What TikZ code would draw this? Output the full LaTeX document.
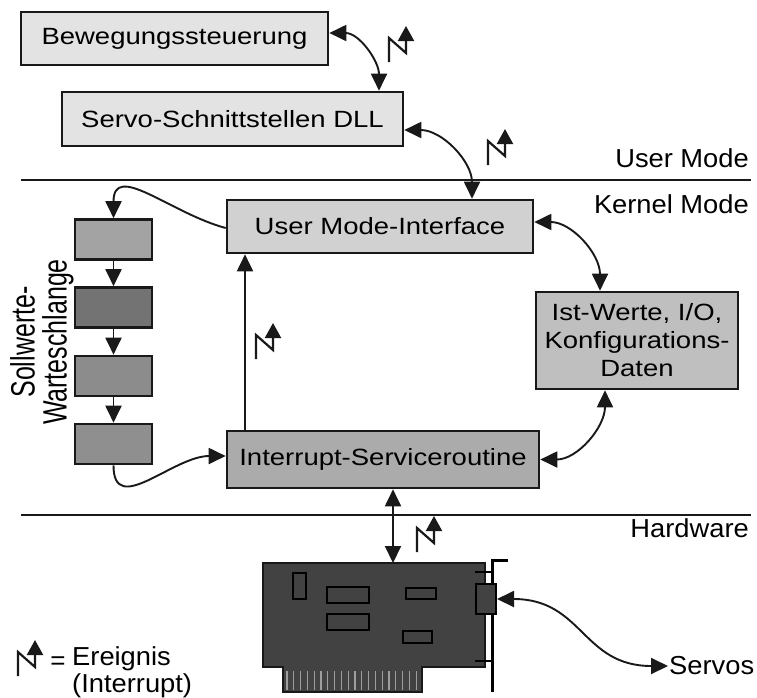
\documentclass[tikz,border=0pt]{standalone}
\usepackage{fontspec}
\setmainfont{Liberation Sans}
\usepackage{graphicx}
\usetikzlibrary{arrows.meta}

\definecolor{edge}{gray}{0.10}
\definecolor{fillA}{gray}{0.89}
\definecolor{fillB}{gray}{0.82}
\definecolor{fillC}{gray}{0.75}
\definecolor{fillD}{gray}{0.67}
\definecolor{qA}{gray}{0.64}
\definecolor{qB}{gray}{0.45}
\definecolor{qC}{gray}{0.55}
\definecolor{qD}{gray}{0.56}
\definecolor{cardc}{gray}{0.26}
\definecolor{fingc}{gray}{0.62}

% wide sans lettering used throughout
\newcommand\wtxt[1]{\scalebox{1.17}[1]{#1}}
\newcommand\ltxt[1]{\scalebox{1.05}[1]{#1}}

\begin{document}
\begin{tikzpicture}[x=1pt,y=1pt,
  >={Triangle[length=17pt,width=16pt]},
  box/.style={draw=edge,line width=2.6pt,inner sep=0pt,font=\fontsize{23.5}{28}\selectfont},
  qbox/.style={draw=edge,line width=2.6pt,minimum width=77pt,minimum height=40pt,inner sep=0pt},
  link/.style={line width=1.9pt,draw=edge},
  side/.style={inner sep=0pt,font=\fontsize{26}{27}\selectfont},
  blitz/.pic={\draw[line width=2.2pt,line join=miter,draw=edge,-{Triangle[length=15pt,width=16pt]}]
     (0,0) -- (0,24) -- (17,9) -- (17,36);}
]
\useasboundingbox (0,0) rectangle (757,-697);
\fill[white] (0,0) rectangle (757,-697);

% layer separators and their labels
\draw[line width=2.2pt,draw=edge] (21,-180) -- (751,-180);
\draw[line width=2.2pt,draw=edge] (21,-515) -- (751,-515);
\node[side,anchor=base east] (um) at (749,-167) {\ltxt{User Mode}};
\node[side,anchor=base east] (km) at (749,-213) {\ltxt{Kernel Mode}};
\node[side,anchor=base east] (hw) at (749,-537) {\ltxt{Hardware}};

% software blocks
\node[box,fill=fillA,minimum width=307pt,minimum height=53pt] (bew) at (174.5,-38.5) {\wtxt{Bewegungssteuerung}};
\node[box,fill=fillA,minimum width=341pt,minimum height=54pt] (dll) at (232.5,-119) {\wtxt{Servo-Schnittstellen DLL}};
\node[box,fill=fillB,minimum width=306pt,minimum height=53pt] (umi) at (380,-226.5) {\wtxt{User Mode-Interface}};
\node[box,fill=fillC,minimum width=202pt,minimum height=97pt,align=center] (ist) at (637,-340.5)
  {\wtxt{Ist-Werte, I/O,}\\\wtxt{Konfigurations-}\\\wtxt{Daten}};
\node[box,fill=fillD,minimum width=312pt,minimum height=57pt] (isr) at (383,-459.5) {\wtxt{Interrupt-Serviceroutine}};

% set-point queue
\node[qbox,fill=qA] (q1) at (113.5,-239.5) {};
\node[qbox,fill=qB] (q2) at (113.5,-307.5) {};
\node[qbox,fill=qC] (q3) at (113.5,-376) {};
\node[qbox,fill=qD] (q4) at (113.5,-444) {};
\node[rotate=90,align=center,inner sep=0pt,font=\fontsize{25}{32}\selectfont] (swq) at (42,-342)
  {\scalebox{1}[1.35]{Sollwerte-}\\\scalebox{1}[1.35]{Warteschlange}};

% data flow
\draw[link,<->] ([yshift=5.5pt]bew.east) to[out=0,in=90] ([xshift=146.5pt]dll.north);
\draw[link,<->] ([yshift=-11pt]dll.east) to[out=0,in=90] ([xshift=92pt]umi.north);
\draw[link,<->] ([yshift=4.5pt]umi.east) to[out=0,in=90] ([xshift=-37pt]ist.north);
\draw[link,<->] (isr.east) to[out=0,in=-90] ([xshift=-32pt]ist.south);
\coordinate (vx) at (245,0);
\draw[link,->] (isr.north -| vx) -- (umi.south -| vx);
\draw[link,->] ([yshift=-1.5pt]umi.west) to[out=165,in=90,looseness=1.3] (q1.north);
\draw[link,->] (q1.south) -- (q2.north);
\draw[link,->] (q2.south) -- (q3.north);
\draw[link,->] (q3.south) -- (q4.north);
\draw[link,->] (q4.south) to[out=-90,in=180,looseness=1.2] ([yshift=3.5pt]isr.west);

% interface card
\fill[cardc] (263,-563) -- (485,-563) -- (485,-667) -- (422,-667) -- (422,-692)
  -- (283,-692) -- (283,-667) -- (263,-667) -- cycle;
\foreach \k in {0,...,19}
  \draw[fingc,line width=1.2pt] ({287+6.8*\k},-671) -- ++(0,-19);
\draw[edge,line width=1.4pt] (263,-563) -- (485,-563) -- (485,-667) -- (422,-667) -- (422,-692)
  -- (283,-692) -- (283,-667) -- (263,-667) -- cycle;
\begin{scope}[draw=black,line width=2pt]
  \draw (293,-573) rectangle (306,-599);
  \draw (327,-587) rectangle (369,-603);
  \draw (327,-614) rectangle (369,-630);
  \draw (406,-588) rectangle (436,-599);
  \draw (403,-631) rectangle (432,-643);
\end{scope}
\draw[black,line width=3pt] (492,-692) -- (492,-560) -- (508,-560);
\draw[black,line width=2.5pt] (475,-572) -- (492,-572);
\draw[black,line width=2.5pt] (475,-661) -- (492,-661);
\node[draw=black,line width=2pt,fill=cardc,minimum width=20pt,minimum height=30pt,inner sep=0pt] (dsub) at (486,-599) {};
\coordinate (cardtop) at (393,-563);
\draw[link,<->] (isr.south -| cardtop) -- (cardtop);

\node[side,anchor=west,inner sep=1pt] (servo) at (668,-666) {\ltxt{Servos}};
\draw[link,<->] (dsub.east) to[out=0,in=180,looseness=1.2] (servo.west);

% interrupt events
\pic at (389,-62) {blitz};
\pic at (488,-165) {blitz};
\pic at (256,-359) {blitz};
\pic at (417,-552) {blitz};

% legend
\pic at (18,-676) {blitz};
\node[side] (eq) at (58,-663) {=};
\node[side,anchor=base west,align=left] (leg) at (72,-692) {\ltxt{Ereignis}\\\ltxt{(Interrupt)}};
\end{tikzpicture}
\end{document}
